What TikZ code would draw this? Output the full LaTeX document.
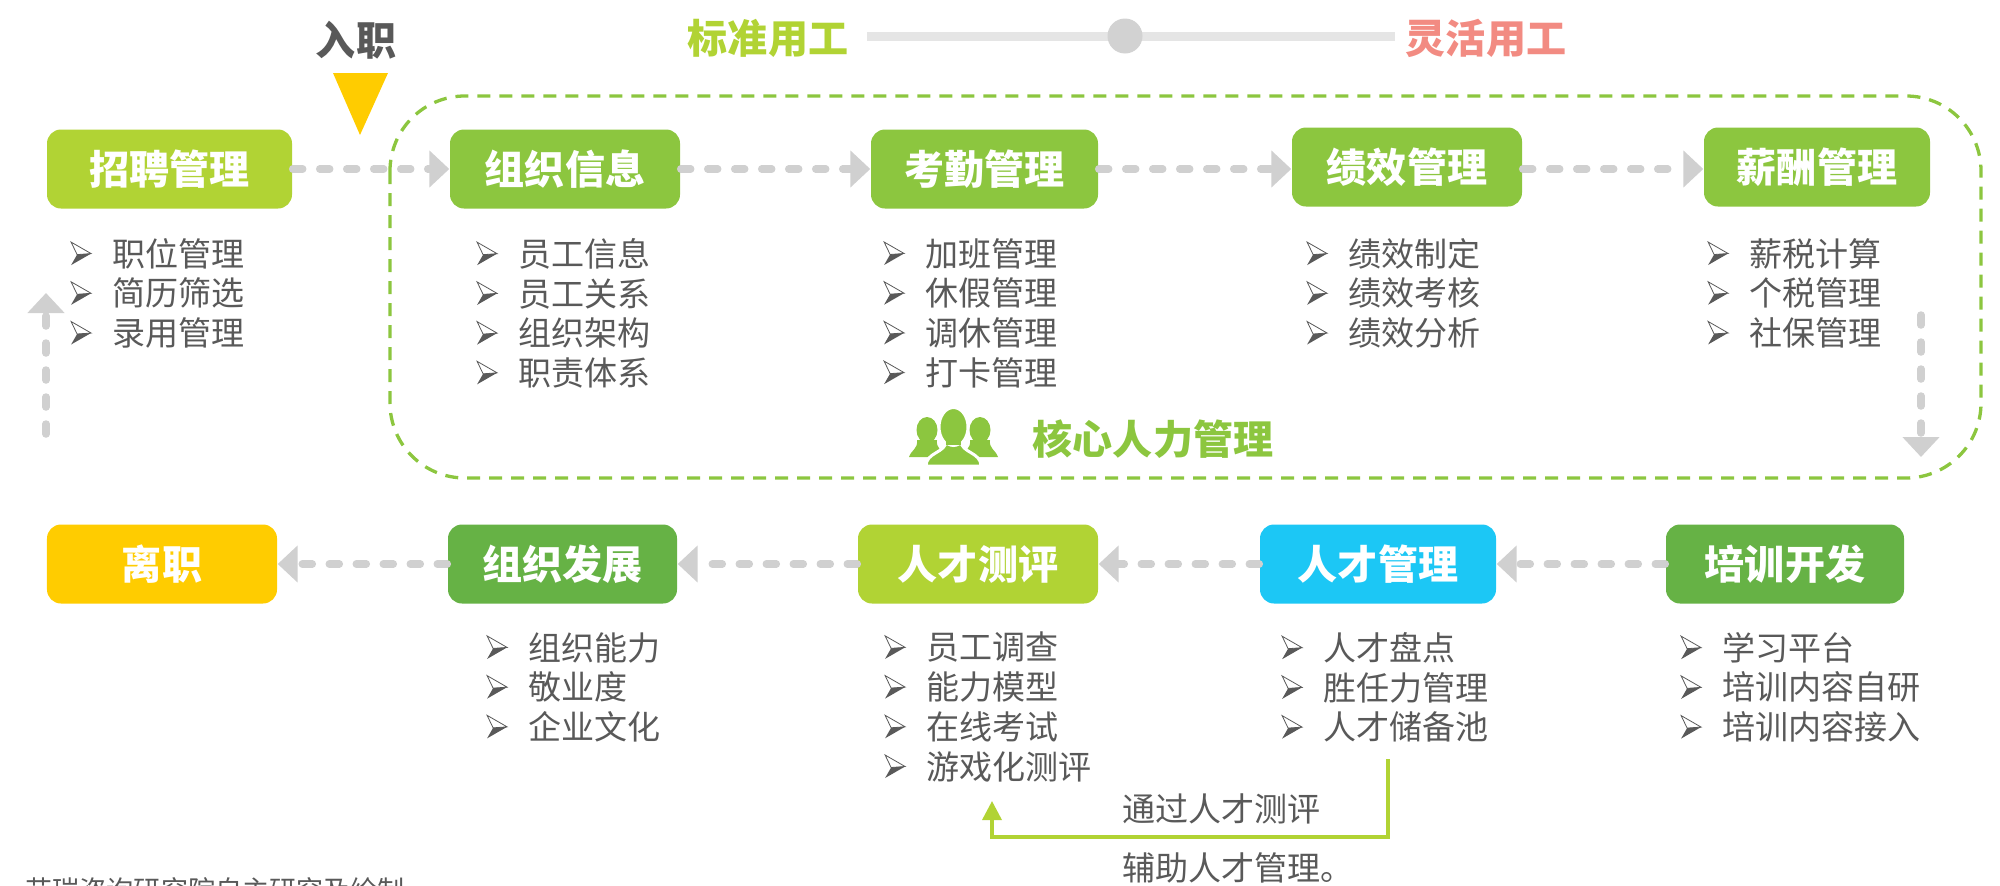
\documentclass[tikz,border=0pt]{standalone}
\usepackage{fontspec}
\setmainfont{Noto Sans CJK SC}
\usetikzlibrary{arrows.meta}
\definecolor{limeg}{HTML}{B1D334}
\definecolor{leafg}{HTML}{8CC63F}
\definecolor{darkg}{HTML}{66B245}
\definecolor{skyb}{HTML}{1CC7F5}
\definecolor{sunny}{HTML}{FFCC00}
\definecolor{txtgray}{HTML}{595959}
\definecolor{linegray}{HTML}{D0D0D0}
\definecolor{pinkish}{HTML}{F28B82}
\newcommand{\bul}{\makebox[0.42cm][l]{\tikz[baseline={(0,-0.011)}]{\draw[txtgray,line width=0.008cm,fill=white] (0,0.23) -- (0.20,0.115) -- (0.06,0.105) -- cycle; \fill[txtgray] (0,0) -- (0.20,0.115) -- (0.06,0.105) -- cycle;}}}
\tikzset{
  hdbox/.style={rounded corners=0.14cm,minimum height=0.79cm,inner sep=0pt,text=white,font=\fontsize{11.4}{13}\selectfont\bfseries},
  itemlist/.style={anchor=north west,inner sep=0pt,align=left,text=txtgray,font=\fontsize{9.4}{11.3}\selectfont},
  flowline/.style={linegray,line width=0.075cm,line cap=round,dash pattern=on 0.10cm off 0.17cm,-{Triangle[length=0.2cm,width=0.36cm]}},
  bigword/.style={inner sep=0pt,font=\fontsize{11.4}{13}\selectfont\bfseries},
  note/.style={anchor=west,inner sep=0pt,text=txtgray,font=\fontsize{9.4}{11.3}\selectfont}
}
\begin{document}
\begin{tikzpicture}
\useasboundingbox (0,0) rectangle (20,8.85);
%core area
\draw[leafg,line width=0.033cm,dash pattern=on 0.13cm off 0.09cm,rounded corners=0.75cm] (3.90,7.89) rectangle (19.81,4.07);

%top slider
\coordinate (slidel) at (8.67,8.49);
\coordinate (slider) at (13.95,8.49);
\draw[gray!20,line width=0.09cm] (slidel) -- (slider);
\node[circle,fill=gray!35,minimum size=0.35cm,inner sep=0pt] (knob) at (11.25,8.49) {};
\node[bigword,text=limeg] (stdwork) at (7.68,8.47) {标准用工};
\node[bigword,text=pinkish] (flexwork) at (14.86,8.47) {灵活用工};

%entry mark
\node[bigword,text=txtgray] (entry) at (3.56,8.45) {入职};
\fill[sunny] (3.33,8.12) -- (3.88,8.12) -- (3.60,7.50) -- cycle;

%top row
\node[hdbox,fill=limeg,minimum width=2.45cm] (recruit) at (1.695,7.16) {招聘管理};
\node[hdbox,fill=leafg,minimum width=2.30cm] (orginfo) at (5.65,7.16) {组织信息};
\node[hdbox,fill=leafg,minimum width=2.27cm] (attend) at (9.845,7.16) {考勤管理};
\node[hdbox,fill=leafg,minimum width=2.30cm] (perform) at (14.07,7.18) {绩效管理};
\node[hdbox,fill=leafg,minimum width=2.26cm] (salary) at (18.17,7.18) {薪酬管理};

%bottom row
\node[hdbox,fill=sunny,minimum width=2.30cm] (leave) at (1.62,3.21) {离职};
\node[hdbox,fill=darkg,minimum width=2.29cm] (orgdev) at (5.625,3.21) {组织发展};
\node[hdbox,fill=limeg,minimum width=2.40cm] (assess) at (9.78,3.21) {人才测评};
\node[hdbox,fill=skyb,minimum width=2.36cm] (talent) at (13.78,3.21) {人才管理};
\node[hdbox,fill=darkg,minimum width=2.38cm] (train) at (17.85,3.21) {培训开发};

%lists
\node[itemlist] (recruitl) at (0.70,6.475) {\bul 职位管理\\\bul 简历筛选\\\bul 录用管理};
\node[itemlist] (orginfol) at (4.76,6.475) {\bul 员工信息\\\bul 员工关系\\\bul 组织架构\\\bul 职责体系};
\node[itemlist] (attendl) at (8.83,6.475) {\bul 加班管理\\\bul 休假管理\\\bul 调休管理\\\bul 打卡管理};
\node[itemlist] (performl) at (13.06,6.475) {\bul 绩效制定\\\bul 绩效考核\\\bul 绩效分析};
\node[itemlist] (salaryl) at (17.07,6.475) {\bul 薪税计算\\\bul 个税管理\\\bul 社保管理};
\node[itemlist] (orgdevl) at (4.86,2.535) {\bul 组织能力\\\bul 敬业度\\\bul 企业文化};
\node[itemlist] (assessl) at (8.84,2.535) {\bul 员工调查\\\bul 能力模型\\\bul 在线考试\\\bul 游戏化测评};
\node[itemlist] (talentl) at (12.81,2.535) {\bul 人才盘点\\\bul 胜任力管理\\\bul 人才储备池};
\node[itemlist] (trainl) at (16.80,2.535) {\bul 学习平台\\\bul 培训内容自研\\\bul 培训内容接入};

%flow arrows
\draw[flowline] (recruit) -- (orginfo);
\draw[flowline] (orginfo) -- (attend);
\draw[flowline] (attend.east) -- (attend.east -| perform.west);
\draw[flowline] (perform.east |- attend.east) -- (attend.east -| salary.west);
\draw[flowline] (train) -- (talent);
\draw[flowline] (talent) -- (assess);
\draw[flowline] (assess) -- (orgdev);
\draw[flowline] (orgdev) -- (leave);
\coordinate (downa) at (19.21,5.70);
\coordinate (downb) at (19.21,4.28);
\draw[flowline] (downa) -- (downb);
\coordinate (upa) at (0.46,4.51);
\coordinate (upb) at (0.46,5.92);
\draw[flowline] (upa) -- (upb);

%core title and icon
\node[bigword,text=leafg] (coretitle) at (11.53,4.46) {核心人力管理};
\fill[leafg] (9.27,4.55) ellipse (0.105 and 0.13);
\fill[leafg] (9.09,4.28) .. controls (9.12,4.36) and (9.18,4.36) .. (9.17,4.45) -- (9.37,4.45) .. controls (9.36,4.36) and (9.42,4.36) .. (9.45,4.28) -- cycle;
\fill[leafg] (9.80,4.55) ellipse (0.105 and 0.13);
\fill[leafg] (9.98,4.28) .. controls (9.95,4.36) and (9.89,4.36) .. (9.90,4.45) -- (9.70,4.45) .. controls (9.71,4.36) and (9.65,4.36) .. (9.62,4.28) -- cycle;
\filldraw[fill=leafg,draw=white,line width=0.03cm] (9.26,4.19) .. controls (9.26,4.33) and (9.46,4.32) .. (9.46,4.44) -- (9.61,4.44) .. controls (9.61,4.32) and (9.81,4.33) .. (9.81,4.19) -- cycle;
\filldraw[fill=leafg,draw=white,line width=0.02cm] (9.535,4.58) ellipse (0.14 and 0.19);
\fill[leafg] (9.46,4.40) rectangle (9.61,4.50);

%feedback from talent to assessment
\coordinate (fromtal) at (13.88,1.26);
\coordinate (toassess) at (9.92,0.84);
\draw[limeg,line width=0.035cm,-{Triangle[length=0.19cm,width=0.19cm]}] (fromtal) |- (9.92,0.48) -- (toassess);
\node[note] (notea) at (11.22,0.76) {通过人才测评};
\node[note] (noteb) at (11.22,0.17) {辅助人才管理。};

%source line
\node[anchor=west,inner sep=0pt,text=txtgray,font=\fontsize{7.7}{9}\selectfont] (source) at (0.25,-0.05) {艾瑞咨询研究院自主研究及绘制};
\end{tikzpicture}
\end{document}
